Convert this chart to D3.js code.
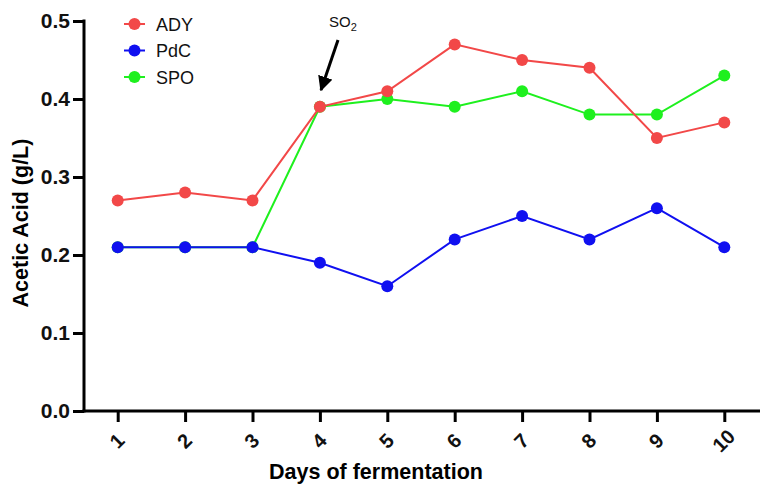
<!DOCTYPE html>
<html>
<head>
<meta charset="utf-8">
<script src="https://cdn.jsdelivr.net/npm/d3@7"></script>
<style>
  body { margin: 0; background: #fff; }
  svg { font-family: "Liberation Sans", Arial, sans-serif; }
</style>
</head>
<body>
<svg width="773" height="492"></svg>
<script>
const days = [1, 2, 3, 4, 5, 6, 7, 8, 9, 10];
const ady = [0.27, 0.28, 0.27, 0.39, 0.41, 0.47, 0.45, 0.44, 0.35, 0.37];
const pdc = [0.21, 0.21, 0.21, 0.19, 0.16, 0.22, 0.25, 0.22, 0.26, 0.21];
const spo = [0.21, 0.21, 0.21, 0.39, 0.40, 0.39, 0.41, 0.38, 0.38, 0.43];
const yTicks = [0.0, 0.1, 0.2, 0.3, 0.4, 0.5];

// drawn back to front: SPO, PdC, ADY
const series = [
  { name: "SPO", values: spo, color: "#1ef01e" },
  { name: "PdC", values: pdc, color: "#1010f0" },
  { name: "ADY", values: ady, color: "#f24848" }
];
const legendOrder = ["ADY", "PdC", "SPO"];

const svg = d3.select("svg");

const x = d3.scaleLinear().domain([0.5, 10.5]).range([84, 758]);
const y = d3.scaleLinear().domain([0, 0.5]).range([411, 21]);

// axes
const xAxis = d3.axisBottom(x).tickValues(days).tickSize(11).tickSizeOuter(0).tickPadding(8);
const yAxis = d3.axisLeft(y).tickValues(yTicks).tickFormat(d3.format(".1f")).tickSize(11).tickSizeOuter(0).tickPadding(3);

const gx = svg.append("g").attr("transform", "translate(0,411)").call(xAxis);
gx.select(".domain").attr("stroke-width", 3).attr("d", "M82.5,0H760");
gx.selectAll(".tick line").attr("stroke-width", 3);
gx.selectAll(".tick text")
  .attr("font-size", 20).attr("font-weight", "bold").attr("fill", "#111")
  .attr("text-anchor", "middle")
  .attr("dy", null).attr("y", 0)
  .attr("transform", "translate(0,31) rotate(-45)")
  .attr("dominant-baseline", "middle");

const gy = svg.append("g").attr("transform", "translate(84,0)").call(yAxis);
gy.select(".domain").attr("stroke-width", 3).attr("d", "M0,19.5V412.5");
gy.selectAll(".tick line").attr("stroke-width", 3);
gy.selectAll(".tick text").attr("font-size", 21).attr("font-weight", "bold").attr("fill", "#111");

// axis titles
svg.append("text")
  .attr("x", 376).attr("y", 479)
  .attr("text-anchor", "middle")
  .attr("font-size", 21.5).attr("font-weight", "bold")
  .text("Days of fermentation");

svg.append("text")
  .attr("transform", "translate(28,223) rotate(-90)")
  .attr("text-anchor", "middle")
  .attr("font-size", 21.5).attr("font-weight", "bold")
  .text("Acetic Acid (g/L)");

// lines and points
const line = d3.line().x((d, i) => x(days[i])).y(d => y(d));
series.forEach(s => {
  svg.append("path")
    .datum(s.values)
    .attr("d", line)
    .attr("fill", "none")
    .attr("stroke", s.color)
    .attr("stroke-width", 2);
  svg.selectAll(null)
    .data(s.values)
    .enter()
    .append("circle")
    .attr("cx", (d, i) => x(days[i]))
    .attr("cy", d => y(d))
    .attr("r", 6)
    .attr("fill", s.color);
});

// legend
const legend = svg.append("g").attr("transform", "translate(124,24)");
legendOrder.forEach((name, i) => {
  const s = series.find(d => d.name === name);
  const g = legend.append("g").attr("transform", "translate(0," + i * 26.5 + ")");
  g.append("line").attr("x1", 0).attr("x2", 21).attr("stroke", s.color).attr("stroke-width", 2);
  g.append("circle").attr("cx", 10.5).attr("r", 6).attr("fill", s.color);
  g.append("text").attr("x", 32).attr("y", 6.5).attr("font-size", 18).attr("fill", "#111").text(name);
});

// SO2 annotation
const defs = svg.append("defs");
defs.append("marker")
  .attr("id", "arrow")
  .attr("viewBox", "0 0 10 10")
  .attr("refX", 9).attr("refY", 5)
  .attr("markerWidth", 5).attr("markerHeight", 5)
  .attr("orient", "auto")
  .append("path").attr("d", "M0,0L10,5L0,10Z").attr("fill", "#000");

svg.append("line")
  .attr("x1", 338).attr("y1", 40)
  .attr("x2", 321).attr("y2", 90)
  .attr("stroke", "#000").attr("stroke-width", 3)
  .attr("marker-end", "url(#arrow)");

const so2 = svg.append("text").attr("x", 329).attr("y", 27).attr("font-size", 15).attr("fill", "#111");
so2.append("tspan").text("SO");
so2.append("tspan").attr("font-size", 11).attr("dy", 4).text("2");
</script>
</body>
</html>
